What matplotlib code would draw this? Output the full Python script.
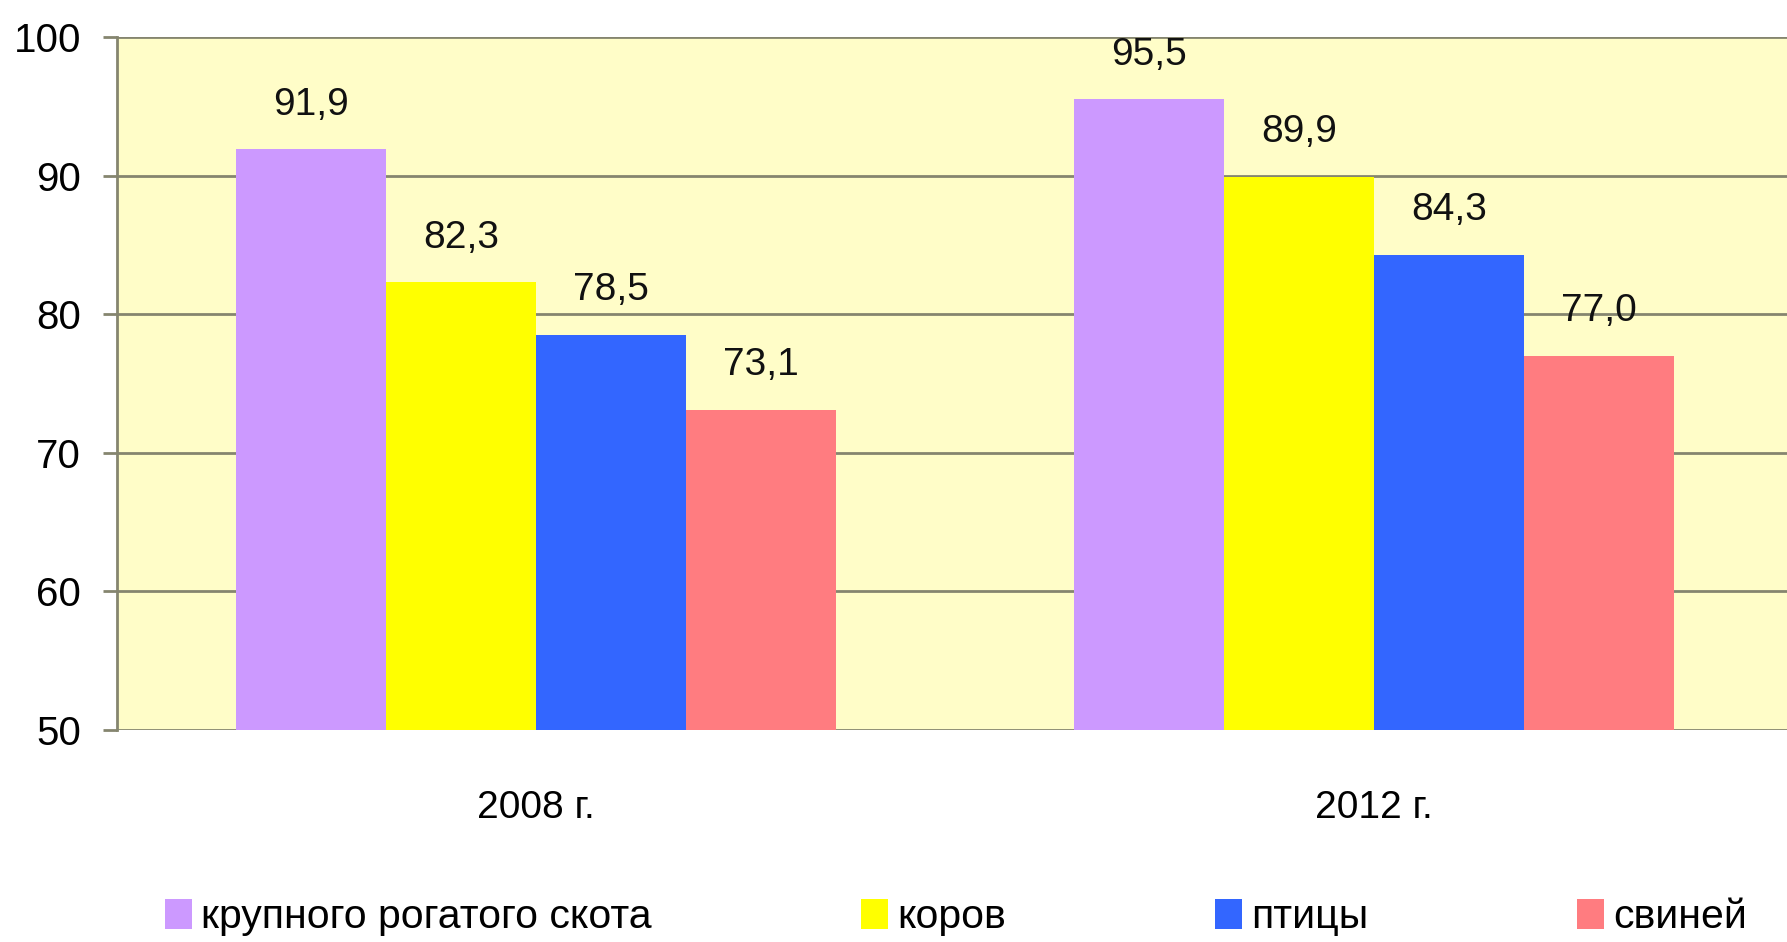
import numpy as np
import matplotlib.pyplot as plt
from matplotlib.patches import Patch

plt.rcParams['font.family'] = ['Liberation Sans', 'DejaVu Sans']

# Data
years = ['2008 г.', '2012 г.']
series_names = ['крупного рогатого скота', 'коров', 'птицы', 'свиней']
vals_cattle = [91.9, 95.5]
vals_cows = [82.3, 89.9]
vals_birds = [78.5, 84.3]
vals_pigs = [73.1, 77.0]
yticks = [50, 60, 70, 80, 90, 100]

colors = ['#CC99FF', '#FFFF00', '#3366FF', '#FF7C80']
grid_col = '#85856f'

fig = plt.figure(figsize=(17.87, 9.42), dpi=100)
ax = fig.add_axes([117 / 1787, 1 - 730 / 942, (1793 - 117) / 1787, (730 - 37) / 942])
ax.set_facecolor('#FFFDC8')

x = np.arange(len(years)) + 0.5
w = 0.179
all_vals = [vals_cattle, vals_cows, vals_birds, vals_pigs]
for i, (vals, c) in enumerate(zip(all_vals, colors)):
    pos = x + (i - 1.5) * w
    ax.bar(pos, np.array(vals) - 50, bottom=50, width=w, color=c, zorder=3)
    for xp, v in zip(pos, vals):
        ax.annotate(f'{v:.1f}'.replace('.', ','), (xp, v), xytext=(0, 25),
                    textcoords='offset points', ha='center', va='baseline',
                    fontsize=28, color='#111111')

ax.set_xlim(0, 2)
ax.set_ylim(50, 100)
ax.set_yticks(yticks)
ax.set_yticklabels([str(t) for t in yticks], fontsize=29)
ax.yaxis.grid(True, color=grid_col, linewidth=2, zorder=1)
ax.tick_params(axis='y', length=10, width=2, color=grid_col, pad=16)
ax.set_xticks(x)
ax.set_xticklabels(years, fontsize=28)
ax.tick_params(axis='x', length=0, pad=43)

for s in ['top', 'right', 'bottom']:
    ax.spines[s].set_visible(False)
ax.spines['left'].set_color(grid_col)
ax.spines['left'].set_linewidth(2)

handles = [Patch(facecolor=c, edgecolor='none') for c in colors]
fig.legend(handles, series_names, loc='center', bbox_to_anchor=(0.535, 1 - 917 / 942),
           ncol=4, frameon=False, fontsize=29.5, handlelength=0.66, handleheight=0.75,
           handletextpad=0.22, columnspacing=5.1, borderaxespad=0)

fig.savefig('out.png', dpi=100)
